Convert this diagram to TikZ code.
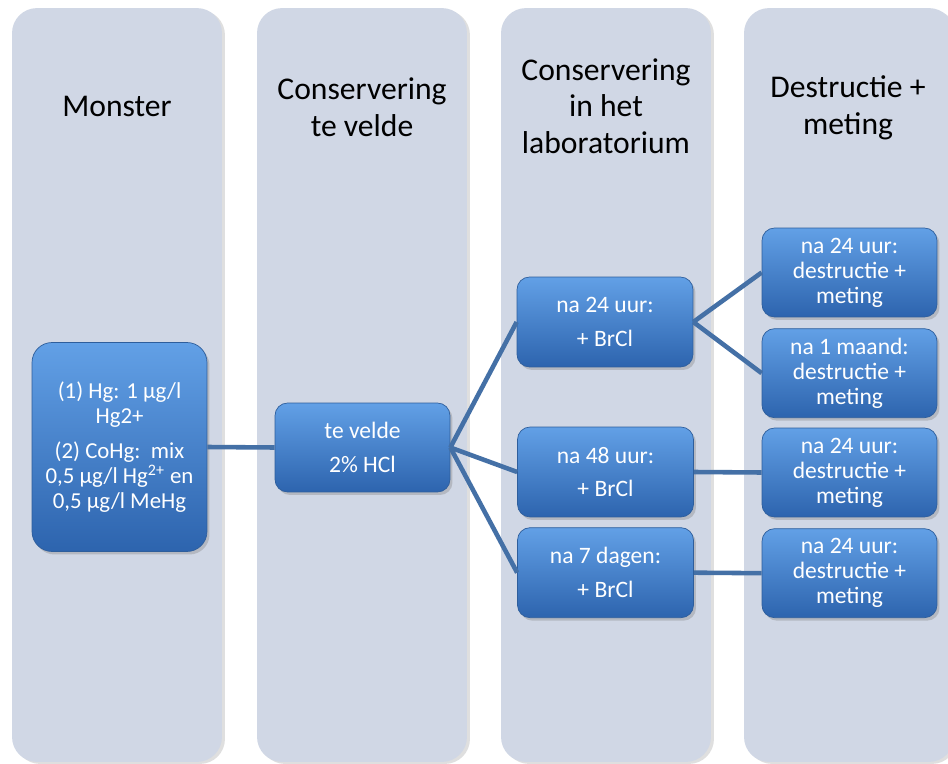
\documentclass[tikz,border=0pt]{standalone}
\usepackage{fontspec}
\setmainfont{Carlito}
\usetikzlibrary{positioning, shadows}
\definecolor{panelfill}{HTML}{D0D7E5}
\definecolor{boxtop}{HTML}{62A0E6}
\definecolor{boxmid}{HTML}{3D7BC8}
\definecolor{boxbottom}{HTML}{2D64AE}
\definecolor{boxstroke}{HTML}{2E5E9C}
\definecolor{linkstroke}{HTML}{4470A6}

\begin{document}
\begin{tikzpicture}[
          x=0.02cm, y=-0.02cm,
          % 1. Kolommen op de achtergrond
          kolom/.style={
              rectangle,
              rounded corners=5mm,
              fill=panelfill,
              minimum width=4.2cm,
              minimum height=15.08cm,
              drop shadow={opacity=0.25, shadow xshift=0.6mm, shadow yshift=-0.4mm}
          },
          % 2. Koppen boven de kolommen
          kop/.style={
              align=center,
              font=\fontsize{18}{20.8}\selectfont,
              text=black
          },
          % 3. Blauwe blokken
          blok/.style={
              rectangle,
              rounded corners=2.5mm,
              top color=boxtop,
              middle color=boxmid,
              bottom color=boxbottom,
              draw=boxstroke,
              thin,
              align=center,
              text=white,
              font=\fontsize{13.4}{14.2}\selectfont,
              minimum width=3.5cm,
              minimum height=1.78cm,
              inner sep=2pt,
              drop shadow={opacity=0.35, shadow xshift=0.5mm, shadow yshift=-0.6mm}
          },
          % 4. Verbindingslijnen
          link/.style={draw=linkstroke, line width=2.6pt}
      ]

      \clip (0,0) rectangle (948,764);
      \useasboundingbox (0,0) rectangle (948,764);
      \fill[white] (0,0) rectangle (948,764);

      % === KOLOMMEN ===
      \node[kolom] (kol1) at (117,385) {};
      \node[kolom] (kol2) at (362,385) {};
      \node[kolom] (kol3) at (606,385) {};
      \node[kolom] (kol4) at (849,385) {};

      % === KOPPEN ===
      \node[kop] (kop1) at (117,106) {Monster};
      \node[kop] (kop2) at (362,107) {Conservering\\te velde};
      \node[kop] (kop3) at (606,106) {Conservering\\in het\\laboratorium};
      \node[kop] (kop4) at (848,108) {Destructie +\\meting};

      % === MONSTER ===
      \node[blok, rounded corners=4mm, minimum height=4.18cm, font=\fontsize{13}{14.2}\selectfont] (monster) at (119.5,447)
          {(1) Hg: 1 µg/l\\Hg2+\\[6pt](2) CoHg:\ \ mix\\0,5 µg/l Hg\textsuperscript{2+} en\\0,5 µg/l MeHg};

      % === TE VELDE ===
      \node[blok] (veld) at (362.5,447.5) {te velde\\[5pt]2\% HCl};

      % === LABORATORIUM ===
      \node[blok, minimum width=3.52cm, minimum height=1.8cm] (lab1) at (605,322) {na 24 uur:\\[5pt]+ BrCl};
      \node[blok, minimum width=3.52cm, minimum height=1.8cm] (lab2) at (605.5,472) {na 48 uur:\\[5pt]+ BrCl};
      \node[blok, minimum width=3.52cm, minimum height=1.8cm, below=0.2cm of lab2] (lab3) {na 7 dagen:\\[5pt]+ BrCl};

      % === DESTRUCTIE + METING ===
      \node[blok] (meet1) at (849.5,272.5) {na 24 uur:\\destructie +\\meting};
      \node[blok, below=0.22cm of meet1] (meet2) {na 1 maand:\\destructie +\\meting};
      \node[blok] (meet3) at (849.5,472.5) {na 24 uur:\\destructie +\\meting};
      \node[blok, below=0.22cm of meet3] (meet4) {na 24 uur:\\destructie +\\meting};

      % === VERBINDINGEN ===
      \draw[link] (monster.east) -- (veld.west);
      \draw[link] (veld.east) -- (lab1.west);
      \draw[link] (veld.east) -- (lab2.west);
      \draw[link] (veld.east) -- (lab3.west);
      \draw[link] (lab1.east) -- (meet1.west);
      \draw[link] (lab1.east) -- (meet2.west);
      \draw[link] (lab2.east) -- (meet3.west);
      \draw[link] (lab3.east) -- (meet4.west);

      \end{tikzpicture}
\end{document}
